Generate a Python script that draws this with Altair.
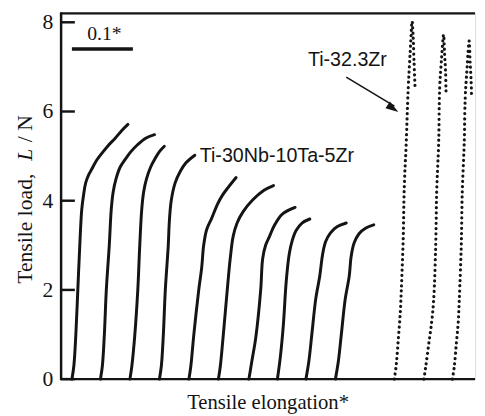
import altair as alt
import pandas as pd

# ---- data (x: elongation, scale-bar 62 units = 0.1*; L: tensile load in N)
nb_x = [
    [11, 13, 15, 17, 19, 21, 23, 25, 28, 31, 36, 41, 48, 55, 62, 68],
    [40, 42, 44, 46, 49, 51, 53, 56, 60, 65, 71, 78, 86, 95],
    [70, 72, 75, 78, 80, 82, 84, 87, 91, 95, 100, 105],
    [100, 102, 104, 106, 109, 110, 112, 116, 121, 127, 136],
    [130, 132, 135, 140, 143, 145, 148, 153, 159, 164, 170, 178],
    [160, 162, 165, 169, 172, 175, 179, 185, 195, 206, 216],
    [191, 194, 198, 203, 205, 208, 212, 217, 225, 238],
    [220, 223, 226, 229, 232, 235, 239, 245, 253],
    [249, 252, 255, 259, 263, 266, 269, 274, 281, 290],
    [279, 282, 285, 289, 293, 295, 298, 303, 310, 318],
]
nb_load = [
    [0, 0.3, 1.0, 2.0, 3.0, 3.8, 4.15, 4.4, 4.58, 4.7, 4.9, 5.05, 5.24, 5.4, 5.58, 5.71],
    [0, 0.3, 1.0, 2.0, 3.0, 3.8, 4.2, 4.5, 4.75, 4.92, 5.1, 5.26, 5.4, 5.48],
    [0, 0.3, 1.0, 2.0, 3.0, 3.8, 4.2, 4.5, 4.75, 4.92, 5.1, 5.22],
    [0, 0.3, 1.0, 2.0, 3.0, 3.5, 4.0, 4.4, 4.65, 4.85, 5.02],
    [0, 0.3, 1.0, 2.0, 2.5, 3.0, 3.35, 3.6, 3.92, 4.12, 4.3, 4.52],
    [0, 0.3, 1.0, 2.0, 2.7, 3.2, 3.5, 3.75, 4.02, 4.23, 4.34],
    [0, 0.4, 0.93, 2.0, 2.7, 3.0, 3.2, 3.45, 3.7, 3.85],
    [0, 0.5, 1.2, 2.2, 2.8, 3.1, 3.33, 3.5, 3.59],
    [0, 0.4, 1.0, 1.8, 2.3, 2.8, 3.08, 3.28, 3.42, 3.5],
    [0, 0.4, 1.0, 1.8, 2.3, 2.75, 3.05, 3.26, 3.39, 3.46],
]
zr_x = [
    [339, 341, 343, 345, 346, 348, 349, 351, 353, 355, 357, 358, 359, 360],
    [369, 371, 374, 377, 379, 381, 382, 384, 385, 387, 389, 390, 391, 391.5],
    [398, 400, 402, 404, 405, 407, 408, 410, 411, 413, 415, 416, 417, 417.5],
]
zr_load = [
    [0, 0.35, 0.9, 1.5, 2.0, 3.2, 4.3, 5.3, 6.5, 7.3, 8.02, 7.7, 7.1, 6.55],
    [0, 0.3, 0.8, 1.3, 1.8, 3.0, 4.2, 5.3, 6.5, 7.2, 7.72, 7.3, 6.9, 6.45],
    [0, 0.3, 0.8, 1.3, 1.8, 3.0, 4.2, 5.3, 6.3, 7.0, 7.58, 7.1, 6.7, 6.3],
]
y_ticks = [0, 2, 4, 6, 8]
y_tick_labels = ["0", "2", "4", "6", "8"]
scale_bar_x = [11, 73]
scale_bar_load = 7.40
scale_label = "0.1*"
label_nb = "Ti-30Nb-10Ta-5Zr"
label_zr = "Ti-32.3Zr"
x_title = "Tensile elongation*"

W, H = 421, 372
SERIF = "Liberation Serif"
SANS = "Liberation Sans"
INK = "#141414"


def to_rows(xs, ls, name):
    rows = []
    for c, (cx, cl) in enumerate(zip(xs, ls)):
        for i, (a, b) in enumerate(zip(cx, cl)):
            rows.append({"series": name, "curve": f"{name}{c}", "i": i, "x": a, "L": b})
    return rows


nb_df = pd.DataFrame(to_rows(nb_x, nb_load, "nb"))
zr_df = pd.DataFrame(to_rows(zr_x, zr_load, "zr"))

xs = alt.Scale(domain=[0, W], nice=False, zero=False)
ys = alt.Scale(domain=[0, 8.2], nice=False, zero=False)


def X(f="x:Q"):
    return alt.X(f, scale=xs, axis=None)


def Y(f="L:Q"):
    return alt.Y(f, scale=ys, axis=None)


solid = alt.Chart(nb_df).mark_line(
    interpolate="catmull-rom", strokeWidth=3, color=INK, strokeCap="round"
).encode(x=X(), y=Y(), detail="curve:N", order="i:Q")

dotted = alt.Chart(zr_df).mark_line(
    interpolate="catmull-rom", strokeWidth=3.2, color=INK, strokeCap="round",
    strokeDash=[0.1, 5.2]
).encode(x=X(), y=Y(), detail="curve:N", order="i:Q")

one = pd.DataFrame({"k": [0]})

# frame: left, bottom, top
left_line = alt.Chart(one).mark_rule(color=INK, strokeWidth=2.5).encode(
    x=alt.value(0), y=alt.value(-1), y2=alt.value(H + 1))
bottom_line = alt.Chart(one).mark_rule(color=INK, strokeWidth=2.5).encode(
    y=alt.value(H), x=alt.value(-1), x2=alt.value(W))
top_line = alt.Chart(one).mark_rule(color=INK, strokeWidth=2.2).encode(
    y=alt.value(0), x=alt.value(-1), x2=alt.value(W))

tick_df = pd.DataFrame({"L": y_ticks, "lab": y_tick_labels})
ticks = alt.Chart(tick_df).mark_rule(color=INK, strokeWidth=2.5).encode(
    y=Y(), x=alt.value(0), x2=alt.value(14))
tick_labels = alt.Chart(tick_df).mark_text(
    font=SERIF, fontSize=22, color=INK, align="right", baseline="middle"
).encode(y=Y(), x=alt.value(-8), text="lab:N")

xtitle = alt.Chart(one).mark_text(
    text=x_title, font=SERIF, fontSize=21, color=INK, align="center", baseline="alphabetic"
).encode(x=alt.value(W / 2), y=alt.value(H + 30))

bar_df = pd.DataFrame({"x": [scale_bar_x[0]], "x2": [scale_bar_x[1]], "L": [scale_bar_load]})
bar = alt.Chart(bar_df).mark_rule(color=INK, strokeWidth=3.5).encode(
    x=X(), x2="x2:Q", y=Y())

txt_df = pd.DataFrame({
    "x": [44, 141, 251],
    "L": [7.60, 5.0, 7.16],
    "t": [scale_label, label_nb, label_zr],
    "font": ["serif", "sans", "sans"],
})
scale_txt = alt.Chart(txt_df[txt_df.font == "serif"]).mark_text(
    font=SERIF, fontSize=20, color=INK, align="center", baseline="alphabetic"
).encode(x=X(), y=Y(), text="t:N")
sans_txt = alt.Chart(txt_df[txt_df.font == "sans"]).mark_text(
    font=SANS, fontSize=20, color=INK, align="left", baseline="middle"
).encode(x=X(), y=Y(), text="t:N")

arrow_df = pd.DataFrame({"x": [290], "L": [6.77], "x2": [339], "L2": [6.12]})
arrow_line = alt.Chart(arrow_df).mark_rule(color=INK, strokeWidth=1.6).encode(
    x=X(), y=Y(), x2="x2:Q", y2="L2:Q")
head_df = pd.DataFrame({"x": [343], "L": [5.99]})
arrow_head = alt.Chart(head_df).mark_point(
    shape="M0,0L0.5,1.6L-0.5,1.6Z", filled=True, size=263, angle=123.4,
    color=INK, opacity=1, strokeWidth=0
).encode(x=X(), y=Y())

ytitle_parts = [
    ("Tensile load,", "normal", 275),
    ("L", "italic", 150),
    ("/ N", "normal", 131),
]
ytitle_layers = [
    alt.Chart(one).mark_text(
        text=t, font=SERIF, fontSize=22, fontStyle=st, color=INK, angle=270,
        align="left", baseline="alphabetic"
    ).encode(x=alt.value(-30), y=alt.value(yp))
    for t, st, yp in ytitle_parts
]

chart = alt.layer(
    solid, dotted, left_line, bottom_line, top_line, ticks, tick_labels, xtitle,
    bar, scale_txt, sans_txt, arrow_line, arrow_head, *ytitle_layers
).properties(
    width=W, height=H,
    autosize=alt.AutoSizeParams(type="none"),
    padding={"left": 54, "top": 2, "right": 2, "bottom": 32},
).configure_view(stroke=None).configure(background="white")

chart.save("out.html", embed_options={"renderer": "svg", "actions": False})
